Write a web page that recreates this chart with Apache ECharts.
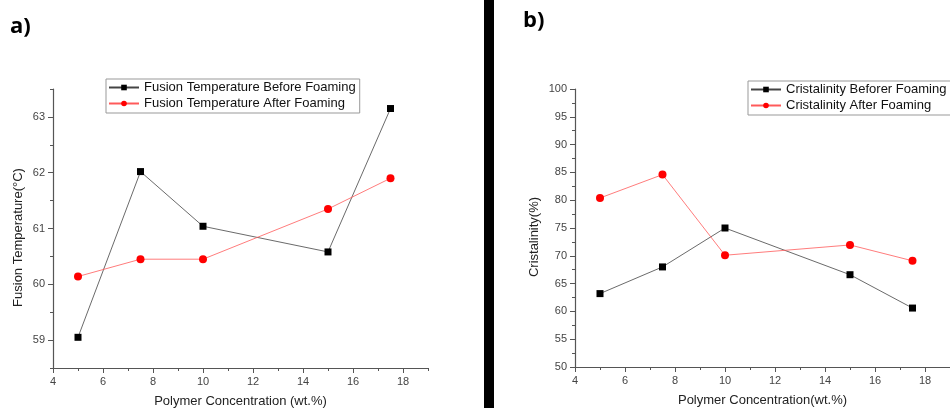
<!DOCTYPE html>
<html>
<head>
  <meta charset="utf-8" />
  <title></title>
  <script src="https://cdn.jsdelivr.net/npm/echarts@6/dist/echarts.min.js"></script>
  <style>
    * {
      margin: 0;
      padding: 0;
    }

    #chart-container {
      width: 950px;
      height: 408px;
      background: #fff;
    }
  </style>
</head>
<body>
  <div id="chart-container"></div>

  <script>
    // data
    const concentration = [5, 7.5, 10, 15, 17.5];
    const fusionBefore = [59.05, 62.02, 61.04, 60.58, 63.15];
    const fusionAfter = [60.14, 60.45, 60.45, 61.35, 61.9];
    const crystBefore = [63.2, 68.0, 75.0, 66.6, 60.6];
    const crystAfter = [80.4, 84.6, 70.1, 71.95, 69.1];

    const xTicks = [4, 6, 8, 10, 12, 14, 16, 18];
    const fusionTicks = [59, 60, 61, 62, 63];
    const crystTicks = [50, 55, 60, 65, 70, 75, 80, 85, 90, 95, 100];

    const font = "'Liberation Sans', Arial, sans-serif";
    const axisColor = "#555";

    const pairs = (ys) => concentration.map((x, i) => [x, ys[i]]);

    // main axis: line, labels, short ticks
    const mainAxis = (grid, pos, min, max, step, labels, extra) => Object.assign({
      type: "value",
      gridIndex: grid,
      position: pos,
      min: min,
      max: max,
      interval: step,
      axisLine: { show: true, lineStyle: { color: axisColor, width: 1.2 } },
      axisTick: { show: true, length: 3, lineStyle: { color: axisColor } },
      axisLabel: {
        customValues: labels,
        color: "#444",
        fontSize: 11,
        fontFamily: font,
        margin: 8,
      },
      splitLine: { show: false },
    }, extra);

    // overlay axis: only the long ticks
    const tickAxis = (grid, pos, min, max, step, ticks) => ({
      type: "value",
      gridIndex: grid,
      position: pos,
      min: min,
      max: max,
      interval: step,
      axisLine: { show: false },
      axisTick: { show: true, length: 5, customValues: ticks, lineStyle: { color: axisColor } },
      axisLabel: { show: false },
      splitLine: { show: false },
    });

    const nameStyle = { color: "#222", fontSize: 13, fontFamily: font };

    var dom = document.getElementById("chart-container");
    var myChart = echarts.init(dom, null, { renderer: "canvas" });

    const lineSeries = (name, data, xi, yi, symbol, size, color, lineColor) => ({
      name: name,
      type: "line",
      xAxisIndex: xi,
      yAxisIndex: yi,
      data: data,
      symbol: symbol,
      symbolSize: size,
      itemStyle: { color: color },
      lineStyle: { color: lineColor, width: 0.8 },
      emphasis: { disabled: true },
      animation: false,
    });

    const legendBase = {
      orient: "vertical",
      selectedMode: false,
      backgroundColor: "#fff",
      borderColor: "#999",
      borderWidth: 1,
      itemWidth: 30,
      itemHeight: 7,
      itemGap: 1,
      textStyle: { color: "#111", fontSize: 13, fontFamily: font, lineHeight: 15 },
    };

    var option = {
      animation: false,
      grid: [
        { left: 53, top: 89, width: 375, height: 279, outerBoundsMode: "none", containLabel: false },
        { left: 575, top: 89, width: 375, height: 278, outerBoundsMode: "none", containLabel: false },
      ],
      xAxis: [
        mainAxis(0, "bottom", 4, 19, 1, xTicks, {
          name: "Polymer Concentration (wt.%)",
          nameLocation: "middle",
          nameGap: 27,
          nameTextStyle: nameStyle,
        }),
        tickAxis(0, "bottom", 4, 19, 1, xTicks),
        mainAxis(1, "bottom", 4, 19, 1, xTicks, {
          name: "Polymer Concentration(wt.%)",
          nameLocation: "middle",
          nameGap: 27,
          nameTextStyle: nameStyle,
        }),
        tickAxis(1, "bottom", 4, 19, 1, xTicks),
      ],
      yAxis: [
        mainAxis(0, "left", 58.5, 63.5, 0.5, fusionTicks, {
          name: "Fusion Temperature(°C)",
          nameLocation: "middle",
          nameGap: 28,
          nameTextStyle: Object.assign({ padding: [0, 18, 0, 0] }, nameStyle),
        }),
        tickAxis(0, "left", 58.5, 63.5, 0.5, fusionTicks),
        mainAxis(1, "left", 50, 100, 2.5, crystTicks, {
          name: "Cristalinity(%)",
          nameLocation: "middle",
          nameGap: 34,
          nameTextStyle: Object.assign({ padding: [0, 18, 0, 0] }, nameStyle),
        }),
        tickAxis(1, "left", 50, 100, 2.5, crystTicks),
      ],
      legend: [
        Object.assign({
          left: 106, top: 79, padding: [1, 4, 2, 2],
          data: ["Fusion Temperature Before Foaming", "Fusion Temperature After Foaming"],
        }, legendBase),
        Object.assign({
          left: 748, top: 81, padding: [1, 8, 2, 2],
          data: ["Cristalinity Beforer Foaming", "Cristalinity After Foaming"],
        }, legendBase),
      ],
      series: [
        lineSeries("Fusion Temperature Before Foaming", pairs(fusionBefore), 0, 0, "rect", 7, "#000", "#444"),
        lineSeries("Fusion Temperature After Foaming", pairs(fusionAfter), 0, 0, "circle", 8, "#ff0000", "#ff5a5a"),
        lineSeries("Cristalinity Beforer Foaming", pairs(crystBefore), 2, 2, "rect", 7, "#000", "#444"),
        lineSeries("Cristalinity After Foaming", pairs(crystAfter), 2, 2, "circle", 8, "#ff0000", "#ff5a5a"),
      ],
      graphic: [
        { type: "rect", left: 484, top: 0, shape: { width: 10, height: 408 }, style: { fill: "#000" } },
        {
          type: "text", left: 10, top: 16,
          style: { text: "a)", fill: "#000", font: "bold 22px 'Open Sans', 'DejaVu Sans', sans-serif" },
        },
        {
          type: "text", left: 523, top: 10,
          style: { text: "b)", fill: "#000", font: "bold 22px 'Open Sans', 'DejaVu Sans', sans-serif" },
        },
      ],
    };

    myChart.setOption(option);
    window.addEventListener("resize", myChart.resize);
  </script>
</body>
</html>
